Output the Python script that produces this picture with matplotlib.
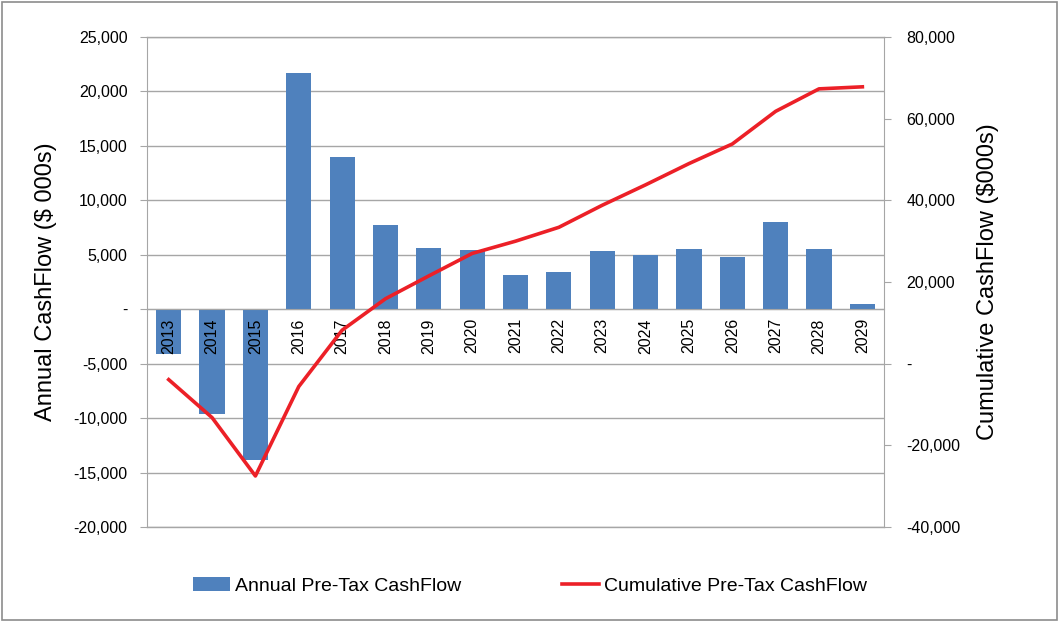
import matplotlib.pyplot as plt
from matplotlib.patches import Rectangle
from matplotlib.ticker import FuncFormatter, MultipleLocator

years = [str(y) for y in range(2013, 2030)]
annual = [-4070, -9600, -13800, 21700, 14000, 7700, 5600, 5400, 3100,
          3450, 5350, 5000, 5550, 4800, 8050, 5550, 500]
cumulative = [-3900, -13200, -27500, -5600, 8200, 15900, 21500, 27000, 30000,
              33400, 38800, 43800, 49000, 53800, 61800, 67300, 67800]

plt.rcParams['font.family'] = ['Liberation Sans', 'DejaVu Sans']

BAR = '#4F81BD'
RED = '#EC2027'
GRID = '#A6A6A6'


def fmt(v, _pos):
    if abs(v) < 1e-9:
        return '-'
    return f'{v:,.0f}'


fig = plt.figure(figsize=(10.6, 6.24), dpi=100)
fig.patches.append(Rectangle((0.002, 0.006), 0.995, 0.99, transform=fig.transFigure,
                             fill=False, edgecolor='#8C8C8C', lw=1.2))

ax = fig.add_axes([0.1387, 0.1554, 0.6953, 0.7853])
x = list(range(len(years)))
bars = ax.bar(x, annual, width=0.58, color=BAR, zorder=2,
              label='Annual Pre-Tax CashFlow')
ax.set_xlim(-0.5, len(years) - 0.5)
ax.set_ylim(-20000, 25000)
ax.yaxis.set_major_locator(MultipleLocator(5000))
ax.yaxis.set_major_formatter(FuncFormatter(fmt))
ax.grid(axis='y', color=GRID, lw=1)
ax.set_axisbelow(True)
# gridlines at the limits get half clipped, draw them again in full
for lim in ax.get_ylim():
    ax.axhline(lim, color=GRID, lw=1, clip_on=False, zorder=0.6)

ax.spines['bottom'].set_position(('data', 0))
ax.spines['bottom'].set_color(GRID)
ax.spines['top'].set_visible(False)
ax.spines['left'].set_color(GRID)
ax.spines['right'].set_color(GRID)
ax.set_xticks(x)
ax.set_xticklabels([])
ax.tick_params(axis='x', length=0)
# year labels sit under the zero line and above the bars
for xi, yr in zip(x, years):
    ax.annotate(yr, (xi, 0), xytext=(0, -9), textcoords='offset pixels',
                rotation=90, ha='center', va='top', fontsize=11.5, zorder=5)
ax.tick_params(axis='y', length=5, color=GRID, labelsize=11.5, pad=9)
ax.set_ylabel('Annual CashFlow ($ 000s)', fontsize=17, labelpad=12)

ax2 = ax.twinx()
line, = ax2.plot(x, cumulative, color=RED, lw=2.6, label='Cumulative Pre-Tax CashFlow')
ax2.set_ylim(-40000, 80000)
ax2.yaxis.set_major_locator(MultipleLocator(20000))
ax2.yaxis.set_major_formatter(FuncFormatter(fmt))
for s in ax2.spines.values():
    s.set_visible(False)
ax2.tick_params(axis='y', length=5, color=GRID, labelsize=11.5, pad=11)
ax2.set_ylabel('Cumulative CashFlow ($000s)', fontsize=17, labelpad=12)

fig.legend(handles=[bars, line], loc='center', bbox_to_anchor=(0.5, 1 - 586 / 624),
           ncol=2, frameon=False, fontsize=14, handlelength=1.9,
           handletextpad=0.25, columnspacing=5.2)

fig.savefig('out.png', dpi=100)
